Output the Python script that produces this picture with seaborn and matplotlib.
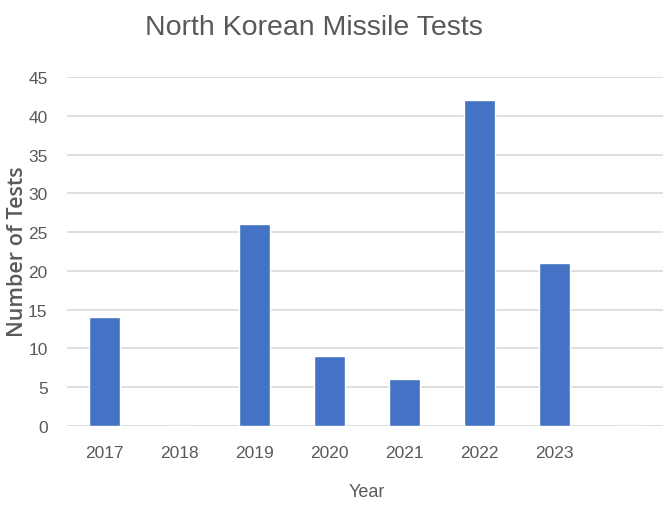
import matplotlib
matplotlib.use("Agg")
import matplotlib.pyplot as plt
import seaborn as sns
import pandas as pd

years = ["2017", "2018", "2019", "2020", "2021", "2022", "2023", ""]
tests = [14, 0, 26, 9, 6, 42, 21, 0]
yticks = [0, 5, 10, 15, 20, 25, 30, 35, 40, 45]

sns.set_style("white")
plt.rcParams['font.family'] = ['Liberation Sans Narrow', 'Liberation Sans', 'DejaVu Sans']

df = pd.DataFrame({"Year": years, "Tests": tests})

fig = plt.figure(figsize=(6.63, 5.06), dpi=100)
W, H = 663, 506
ax = fig.add_axes([67 / W, (H - 427) / H, 600 / W, 349 / H])

sns.barplot(data=df, x="Year", y="Tests", color="#4472C4", width=0.41,
            saturation=1, ax=ax, zorder=3)

ax.set_ylim(0, 45)
ax.set_xlim(-0.5, len(years) - 0.5)
ax.set_yticks(yticks)
ax.set_yticklabels([str(v) for v in yticks])
ax.grid(axis="y", color="#D9D9D9", linewidth=1.2, zorder=0)
ax.grid(axis="x", visible=False)
for s in ax.spines.values():
    s.set_visible(False)
ax.tick_params(axis="both", length=0, labelsize=12.5, labelcolor="#595959")
ax.tick_params(axis="x", pad=14)
ax.tick_params(axis="y", pad=14)

ax.set_xlabel("Year", fontsize=13, color="#595959", labelpad=16)
ax.set_ylabel("")
fig.text(18 / W, 1 - 252 / H, "Number of Tests", rotation=90, ha="center", va="center",
         fontsize=15.5, color="#595959", fontweight="semibold",
         family=["Open Sans", "DejaVu Sans"])

fig.text(314 / W, 1 - 28 / H, "North Korean Missile Tests", ha="center", va="center",
         fontsize=20.5, color="#595959")

fig.savefig("out.png", dpi=100)
